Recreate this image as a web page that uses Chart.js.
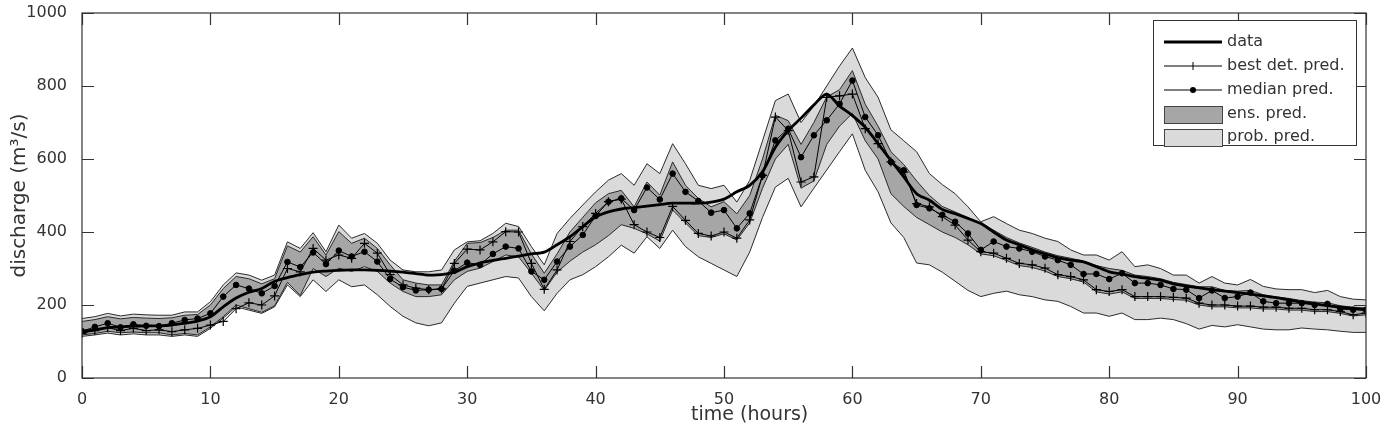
<!DOCTYPE html>
<html>
<head>
<meta charset="utf-8">
<script src="https://cdn.jsdelivr.net/npm/chart.js@4.4.1/dist/chart.umd.min.js"></script>
<style>
  html, body { margin: 0; padding: 0; background: #fff; }
  canvas { display: block; }
</style>
</head>
<body>
<canvas id="dischargeChart" width="1389" height="441"></canvas>
<script>
// time axis (hours)
const hours = [0,1,2,3,4,5,6,7,8,9,10,11,12,13,14,15,16,17,18,19,20,21,22,23,24,25,26,27,28,29,30,
  31,32,33,34,35,36,37,38,39,40,41,42,43,44,45,46,47,48,49,50,51,52,53,54,55,56,57,58,59,60,
  61,62,63,64,65,66,67,68,69,70,71,72,73,74,75,76,77,78,79,80,81,82,83,84,85,86,87,88,89,90,
  91,92,93,94,95,96,97,98,99,100];

// observed discharge
const observed = [128,132,138,140,142,143,143,145,150,156,168,195,219,235,245,265,275,283,290,293,295,
  296,296,295,293,290,286,282,283,290,305,315,322,328,334,340,345,365,387,415,441,
  455,463,467,471,475,479,479,479,482,490,510,528,565,632,678,712,748,778,745,719,
  687,642,596,551,505,487,462,450,437,423,400,378,365,351,340,330,323,318,305,291,
  285,278,273,268,258,252,247,242,238,234,230,225,220,214,208,203,198,194,190,187];

// best deterministic prediction
const bestDet = [122,130,138,130,136,130,132,127,132,136,145,155,190,206,200,225,300,291,355,323,337,
  328,369,342,283,255,246,242,244,314,353,351,373,401,400,314,243,296,374,415,451,
  483,490,420,400,385,470,432,396,389,400,383,433,555,715,678,537,551,769,773,778,
  683,642,592,564,478,469,442,419,378,346,342,328,314,310,301,283,278,269,242,237,
  242,223,223,223,221,219,205,200,200,197,197,194,194,191,191,187,187,182,173,178];

// median of the ensemble
const medianPred = [128,140,150,139,147,143,142,150,159,163,177,223,255,245,232,252,318,304,344,312,349,
  333,346,319,271,249,240,242,244,294,316,310,340,360,355,292,269,319,360,392,444,
  483,492,460,522,489,560,510,485,453,460,410,451,555,651,683,605,665,706,751,815,
  715,665,592,569,474,465,447,428,396,351,374,360,355,346,333,323,310,285,285,271,
  287,260,260,255,244,242,219,240,219,223,234,210,205,205,205,200,203,189,187,187];

// ensemble envelope
const ensLow = [118,122,128,124,126,124,124,118,122,118,140,168,200,190,180,198,262,226,300,278,301,
  292,305,292,260,237,223,223,228,269,292,301,319,337,332,287,240,290,320,345,365,
  390,420,410,395,375,460,425,390,385,395,378,425,520,600,640,520,540,640,690,725,
  650,600,505,470,440,420,400,385,365,340,335,322,308,303,293,278,272,263,236,230,
  236,218,218,218,215,213,200,195,195,192,192,189,189,186,186,182,182,177,170,173];
const ensHigh = [155,160,168,162,166,164,163,165,172,174,200,245,278,272,258,272,362,345,387,337,401,
  369,383,355,310,269,260,255,255,320,369,371,385,405,405,340,287,340,400,440,480,
  505,514,469,537,501,592,528,492,469,483,450,500,600,720,705,640,700,770,790,842,
  750,690,620,585,540,500,470,455,440,425,405,385,370,358,345,335,328,320,308,300,
  295,282,278,272,262,256,250,250,240,238,240,228,222,218,212,208,206,198,194,192];

// probabilistic prediction interval
const probLow = [114,118,123,118,121,118,118,114,118,114,136,164,195,186,177,195,255,223,269,237,269,
  250,255,228,196,169,151,143,151,205,251,260,269,278,274,223,184,232,269,283,305,
  332,364,342,387,355,405,360,332,314,296,278,345,440,523,547,469,520,570,620,669,
  569,510,425,385,315,310,290,265,240,223,232,238,228,223,214,210,196,178,178,169,
  178,160,160,164,160,149,134,144,140,146,140,134,132,132,137,134,132,128,125,125];
const probHigh = [163,168,177,170,175,173,172,172,181,181,209,255,288,282,268,282,373,355,398,346,419,
  383,396,369,323,296,291,291,296,351,373,376,396,424,415,360,310,396,437,474,510,
  542,560,528,587,560,642,587,528,519,528,482,541,650,760,778,700,745,800,855,904,
  823,769,680,650,620,560,530,505,469,428,442,423,405,396,383,374,351,337,337,323,
  346,305,310,300,282,282,260,278,260,255,270,251,244,242,242,234,240,223,216,214];

const xTicks = [0,10,20,30,40,50,60,70,80,90,100];
const yTicks = [0,200,400,600,800,1000];

const FONT = "'DejaVu Sans', sans-serif";
const TEXT = "#333";

const toPoints = vals => vals.map((v, i) => ({ x: hours[i], y: v }));

// box round the plot with inward ticks on all four sides, plus the x title
const boxTicks = {
  id: "boxTicks",
  afterDatasetsDraw(chart) {
    const { ctx, chartArea: a, scales } = chart;
    const len = 12;
    ctx.save();
    ctx.strokeStyle = "#333";
    ctx.lineWidth = 1.2;
    ctx.strokeRect(a.left, a.top, a.right - a.left, a.bottom - a.top);
    ctx.beginPath();
    xTicks.forEach(t => {
      const px = Math.round(scales.x.getPixelForValue(t)) + 0.5;
      ctx.moveTo(px, a.bottom); ctx.lineTo(px, a.bottom - len);
      ctx.moveTo(px, a.top); ctx.lineTo(px, a.top + len);
    });
    yTicks.forEach(t => {
      const py = Math.round(scales.y.getPixelForValue(t)) + 0.5;
      ctx.moveTo(a.left, py); ctx.lineTo(a.left + len, py);
      ctx.moveTo(a.right, py); ctx.lineTo(a.right - len, py);
    });
    ctx.stroke();
    // x axis title sits a little right of centre in the original
    ctx.fillStyle = TEXT;
    ctx.font = "19px " + FONT;
    ctx.textAlign = "center";
    ctx.textBaseline = "middle";
    ctx.fillText("time (hours)", scales.x.getPixelForValue(52), a.bottom + 37);
    ctx.restore();
  }
};

// legend drawn inside the plot, top right
const innerLegend = {
  id: "innerLegend",
  afterDraw(chart) {
    const { ctx, chartArea: a } = chart;
    const x0 = a.right - 213, y0 = a.top + 7, w = 203, h = 125;
    ctx.save();
    ctx.fillStyle = "#fff";
    ctx.fillRect(x0, y0, w, h);
    ctx.strokeStyle = "#333";
    ctx.lineWidth = 1;
    ctx.strokeRect(x0 + 0.5, y0 + 0.5, w, h);
    const sx0 = x0 + 11, sx1 = x0 + 69, tx = x0 + 74;
    const rows = [22, 46, 70, 94, 117];
    const labels = ["data", "best det. pred.", "median pred.", "ens. pred.", "prob. pred."];
    ctx.font = "16px " + FONT;
    ctx.fillStyle = TEXT;
    ctx.textBaseline = "middle";
    labels.forEach((l, i) => ctx.fillText(l, tx, y0 + rows[i]));
    ctx.strokeStyle = "#000";
    // data
    ctx.lineWidth = 3;
    ctx.beginPath(); ctx.moveTo(sx0, y0 + rows[0]); ctx.lineTo(sx1, y0 + rows[0]); ctx.stroke();
    // best det.
    ctx.lineWidth = 1;
    const mx = (sx0 + sx1) / 2;
    ctx.beginPath();
    ctx.moveTo(sx0, y0 + rows[1]); ctx.lineTo(sx1, y0 + rows[1]);
    ctx.moveTo(mx, y0 + rows[1] - 4); ctx.lineTo(mx, y0 + rows[1] + 4);
    ctx.stroke();
    // median
    ctx.beginPath(); ctx.moveTo(sx0, y0 + rows[2]); ctx.lineTo(sx1, y0 + rows[2]); ctx.stroke();
    ctx.fillStyle = "#000";
    ctx.beginPath(); ctx.arc(mx, y0 + rows[2], 3, 0, Math.PI * 2); ctx.fill();
    // bands
    ctx.strokeStyle = "#444";
    ctx.fillStyle = "#a6a6a6";
    ctx.fillRect(sx0, y0 + rows[3] - 8, sx1 - sx0, 17);
    ctx.strokeRect(sx0 + 0.5, y0 + rows[3] - 8 + 0.5, sx1 - sx0, 17);
    ctx.fillStyle = "#dadada";
    ctx.fillRect(sx0, y0 + rows[4] - 8, sx1 - sx0, 17);
    ctx.strokeRect(sx0 + 0.5, y0 + rows[4] - 8 + 0.5, sx1 - sx0, 17);
    ctx.restore();
  }
};

const ctx = document.getElementById("dischargeChart").getContext("2d");

new Chart(ctx, {
  type: "line",
  data: {
    datasets: [
      { label: "data", data: toPoints(observed), borderColor: "#000", borderWidth: 2.8,
        pointRadius: 0, tension: 0.3, fill: false, order: 0 },
      { label: "best det. pred.", data: toPoints(bestDet), borderColor: "#000", borderWidth: 1,
        pointStyle: "cross", pointRadius: 4.5, pointBorderWidth: 1.2, pointBorderColor: "#000",
        fill: false, order: 1 },
      { label: "median pred.", data: toPoints(medianPred), borderColor: "#000", borderWidth: 1,
        pointStyle: "circle", pointRadius: 2.8, pointBackgroundColor: "#000", pointBorderColor: "#000",
        fill: false, order: 2 },
      { label: "ens. pred.", data: toPoints(ensHigh), borderColor: "#2a2a2a", borderWidth: 1,
        backgroundColor: "#a6a6a6", pointRadius: 0, fill: "+1", order: 3 },
      { label: "ens. low", data: toPoints(ensLow), borderColor: "#2a2a2a", borderWidth: 1,
        pointRadius: 0, fill: false, order: 3 },
      { label: "prob. pred.", data: toPoints(probHigh), borderColor: "#2a2a2a", borderWidth: 1,
        backgroundColor: "#dadada", pointRadius: 0, fill: "+1", order: 4 },
      { label: "prob. low", data: toPoints(probLow), borderColor: "#2a2a2a", borderWidth: 1,
        pointRadius: 0, fill: false, order: 4 }
    ]
  },
  options: {
    responsive: false,
    animation: false,
    layout: { padding: { top: 13, right: 23, left: 0, bottom: 0 } },
    plugins: {
      legend: { display: false },
      tooltip: { enabled: false },
      filler: { propagate: false, drawTime: "beforeDatasetsDraw" }
    },
    scales: {
      x: {
        type: "linear", min: 0, max: 100,
        grid: { display: false }, border: { display: false },
        afterBuildTicks: s => { s.ticks = xTicks.map(v => ({ value: v })); },
        ticks: { color: TEXT, font: { family: FONT, size: 16 }, padding: 4, maxRotation: 0,
                 callback: v => String(v) },
        afterFit: s => { s.height = 63; s.paddingLeft = 0; s.paddingRight = 0; }
      },
      y: {
        min: 0, max: 1000,
        grid: { display: false }, border: { display: false },
        afterBuildTicks: s => { s.ticks = yTicks.map(v => ({ value: v })); },
        ticks: { color: TEXT, font: { family: FONT, size: 16 }, padding: 7,
                 callback: v => String(v) },
        title: { display: true, text: "discharge (m³/s)", color: TEXT,
                 font: { family: FONT, size: 20 }, padding: { top: 8, bottom: 4 } },
        afterFit: s => { s.width = 82; s.paddingTop = 0; s.paddingBottom = 0; }
      }
    }
  },
  plugins: [boxTicks, innerLegend]
});
</script>
</body>
</html>
